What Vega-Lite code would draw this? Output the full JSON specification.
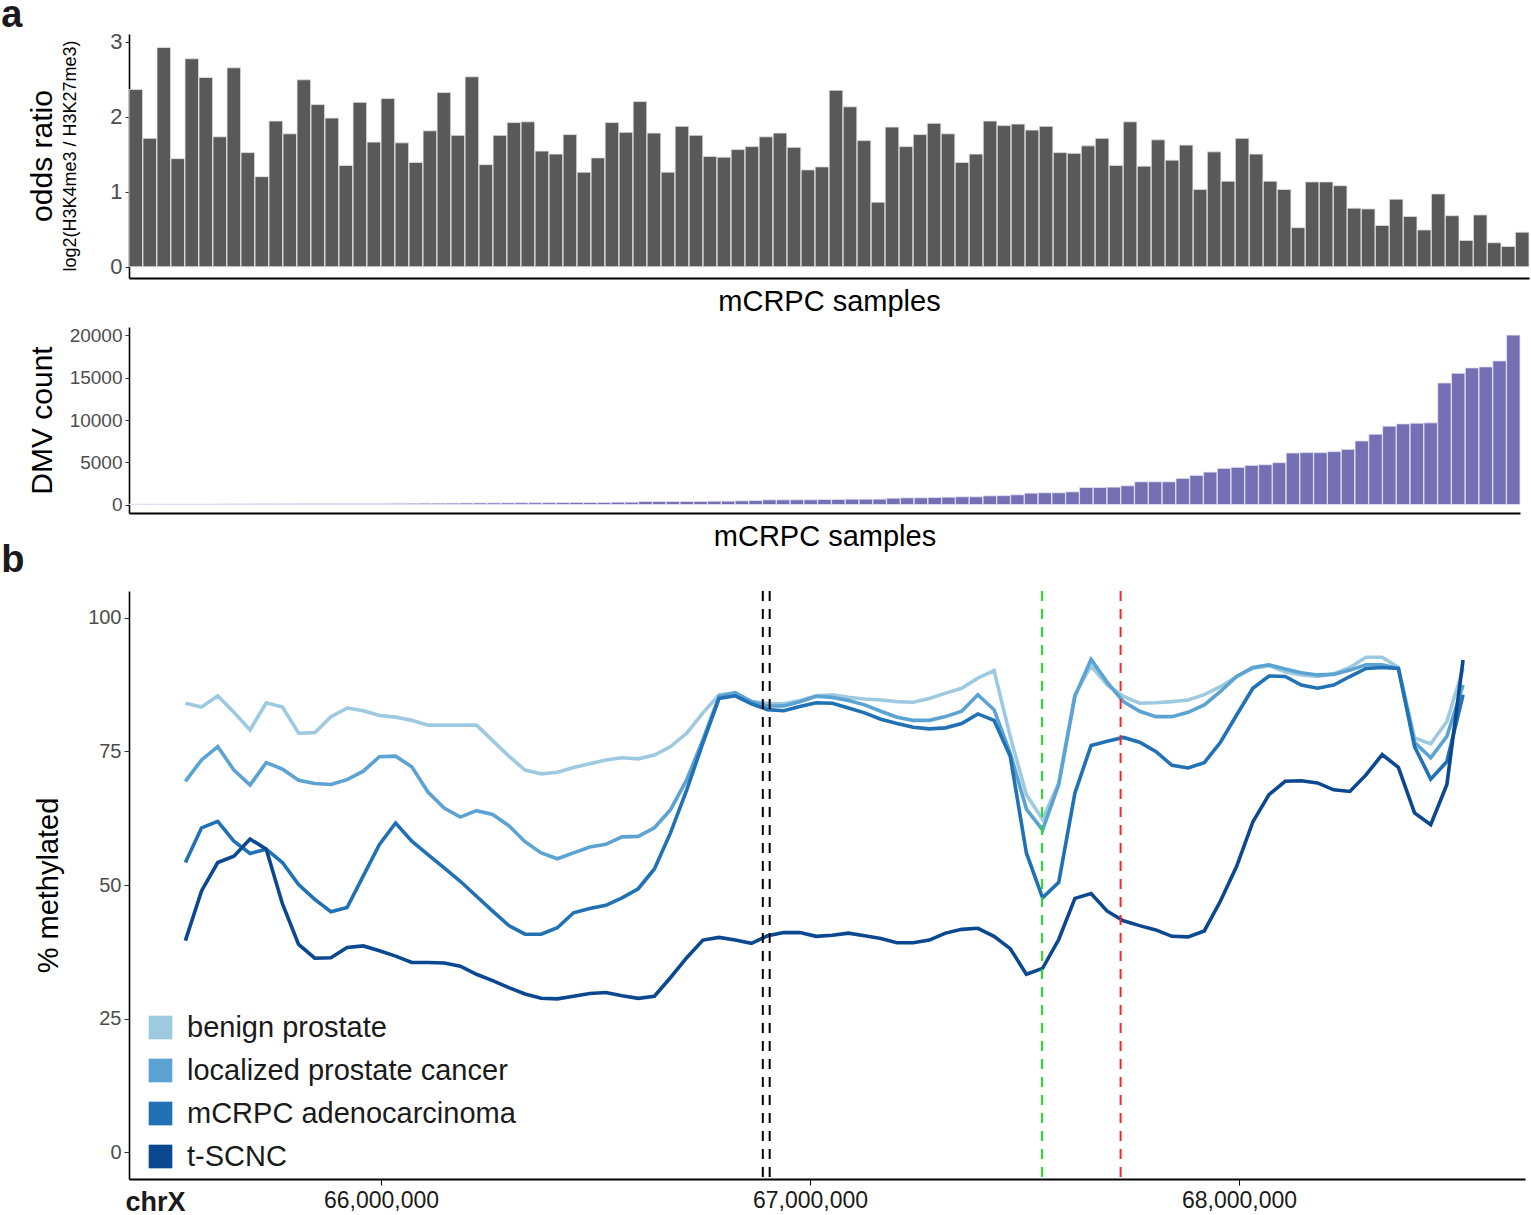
{
  "$schema": "https://vega.github.io/schema/vega-lite/v6.json",
  "background": "white",
  "padding": {"left": 1, "top": -4, "right": 0, "bottom": 0},
  "title": {"text": "a", "anchor": "start", "frame": "bounds", "fontSize": 38, "fontWeight": "bold", "color": "#1a1a1a", "offset": -4},
  "config": {
    "font": "Liberation Sans",
    "view": {"stroke": null},
    "axis": {"grid": false, "domainColor": "black", "domainWidth": 1.6, "tickColor": "#333333", "labelColor": "#4d4d4d", "titleColor": "black", "titleFontWeight": "normal"}
  },
  "resolve": {"legend": {"color": "independent"}},
  "spacing": 10,
  "vconcat": [
    {
      "width": 1400,
      "height": 244,
      "title": {"text": "odds ratio", "subtitle": "log2(H3K4me3 / H3K27me3)", "orient": "left", "anchor": "middle", "fontSize": 30, "fontWeight": "normal", "color": "black", "subtitleFontSize": 18, "subtitleColor": "black", "subtitlePadding": 4, "offset": 30},
      "data": {"values": [
        {"s":1,"or":2.36},{"s":2,"or":1.71},{"s":3,"or":2.92},{"s":4,"or":1.44},{"s":5,"or":2.77},{"s":6,"or":2.52},{"s":7,"or":1.73},{"s":8,"or":2.65},{"s":9,"or":1.52},{"s":10,"or":1.20},
        {"s":11,"or":1.94},{"s":12,"or":1.77},{"s":13,"or":2.49},{"s":14,"or":2.16},{"s":15,"or":1.98},{"s":16,"or":1.35},{"s":17,"or":2.19},{"s":18,"or":1.66},{"s":19,"or":2.24},{"s":20,"or":1.65},
        {"s":21,"or":1.39},{"s":22,"or":1.81},{"s":23,"or":2.32},{"s":24,"or":1.75},{"s":25,"or":2.53},{"s":26,"or":1.36},{"s":27,"or":1.75},{"s":28,"or":1.92},{"s":29,"or":1.93},{"s":30,"or":1.54},
        {"s":31,"or":1.50},{"s":32,"or":1.76},{"s":33,"or":1.26},{"s":34,"or":1.45},{"s":35,"or":1.92},{"s":36,"or":1.79},{"s":37,"or":2.20},{"s":38,"or":1.78},{"s":39,"or":1.26},{"s":40,"or":1.87},
        {"s":41,"or":1.75},{"s":42,"or":1.47},{"s":43,"or":1.46},{"s":44,"or":1.56},{"s":45,"or":1.60},{"s":46,"or":1.73},{"s":47,"or":1.78},{"s":48,"or":1.59},{"s":49,"or":1.29},{"s":50,"or":1.33},
        {"s":51,"or":2.35},{"s":52,"or":2.13},{"s":53,"or":1.68},{"s":54,"or":0.86},{"s":55,"or":1.86},{"s":56,"or":1.60},{"s":57,"or":1.76},{"s":58,"or":1.91},{"s":59,"or":1.77},{"s":60,"or":1.39},
        {"s":61,"or":1.50},{"s":62,"or":1.94},{"s":63,"or":1.88},{"s":64,"or":1.90},{"s":65,"or":1.82},{"s":66,"or":1.87},{"s":67,"or":1.52},{"s":68,"or":1.51},{"s":69,"or":1.61},{"s":70,"or":1.71},
        {"s":71,"or":1.35},{"s":72,"or":1.93},{"s":73,"or":1.34},{"s":74,"or":1.69},{"s":75,"or":1.42},{"s":76,"or":1.62},{"s":77,"or":1.03},{"s":78,"or":1.53},{"s":79,"or":1.14},{"s":80,"or":1.71},
        {"s":81,"or":1.50},{"s":82,"or":1.14},{"s":83,"or":1.03},{"s":84,"or":0.52},{"s":85,"or":1.13},{"s":86,"or":1.13},{"s":87,"or":1.08},{"s":88,"or":0.78},{"s":89,"or":0.77},{"s":90,"or":0.55},
        {"s":91,"or":0.90},{"s":92,"or":0.67},{"s":93,"or":0.49},{"s":94,"or":0.97},{"s":95,"or":0.68},{"s":96,"or":0.35},{"s":97,"or":0.69},{"s":98,"or":0.32},{"s":99,"or":0.27},{"s":100,"or":0.46}
      ]},
      "mark": {"type": "bar", "color": "#595959", "stroke": "#e3e3e3", "strokeWidth": 0.8},
      "encoding": {
        "x": {"field": "s", "type": "ordinal", "sort": null, "scale": {"paddingInner": 0.03, "paddingOuter": 0},
              "axis": {"title": "mCRPC samples", "titleFontSize": 29, "titlePadding": 9, "labels": false, "ticks": false, "domainWidth": 2}},
        "y": {"field": "or", "type": "quantitative", "scale": {"domain": [-0.15, 3.1], "nice": false},
              "axis": {"title": null, "values": [0, 1, 2, 3], "labelFontSize": 22, "tickSize": 4, "labelPadding": 3}}
      }
    },
    {
      "width": 1391,
      "height": 186,
      "title": {"text": "b", "orient": "bottom", "anchor": "start", "frame": "bounds", "fontSize": 38, "fontWeight": "bold", "color": "#1a1a1a", "offset": -9, "dx": -26},
      "data": {"values": [
        {"s":1,"dmv":40},{"s":2,"dmv":45},{"s":3,"dmv":50},{"s":4,"dmv":55},{"s":5,"dmv":60},{"s":6,"dmv":65},{"s":7,"dmv":70},{"s":8,"dmv":75},{"s":9,"dmv":80},{"s":10,"dmv":85},
        {"s":11,"dmv":90},{"s":12,"dmv":95},{"s":13,"dmv":100},{"s":14,"dmv":105},{"s":15,"dmv":110},{"s":16,"dmv":115},{"s":17,"dmv":120},{"s":18,"dmv":125},{"s":19,"dmv":130},{"s":20,"dmv":140},
        {"s":21,"dmv":150},{"s":22,"dmv":160},{"s":23,"dmv":165},{"s":24,"dmv":170},{"s":25,"dmv":180},{"s":26,"dmv":190},{"s":27,"dmv":195},{"s":28,"dmv":200},{"s":29,"dmv":210},{"s":30,"dmv":215},
        {"s":31,"dmv":220},{"s":32,"dmv":230},{"s":33,"dmv":238},{"s":34,"dmv":238},{"s":35,"dmv":245},{"s":36,"dmv":277},{"s":37,"dmv":280},{"s":38,"dmv":356},{"s":39,"dmv":356},{"s":40,"dmv":360},
        {"s":41,"dmv":360},{"s":42,"dmv":365},{"s":43,"dmv":396},{"s":44,"dmv":400},{"s":45,"dmv":436},{"s":46,"dmv":475},{"s":47,"dmv":554},{"s":48,"dmv":554},{"s":49,"dmv":560},{"s":50,"dmv":565},
        {"s":51,"dmv":594},{"s":52,"dmv":600},{"s":53,"dmv":634},{"s":54,"dmv":634},{"s":55,"dmv":640},{"s":56,"dmv":752},{"s":57,"dmv":792},{"s":58,"dmv":795},{"s":59,"dmv":832},{"s":60,"dmv":871},
        {"s":61,"dmv":911},{"s":62,"dmv":915},{"s":63,"dmv":1030},{"s":64,"dmv":1050},{"s":65,"dmv":1150},{"s":66,"dmv":1350},{"s":67,"dmv":1390},{"s":68,"dmv":1390},{"s":69,"dmv":1500},{"s":70,"dmv":2020},
        {"s":71,"dmv":2020},{"s":72,"dmv":2060},{"s":73,"dmv":2220},{"s":74,"dmv":2690},{"s":75,"dmv":2690},{"s":76,"dmv":2690},{"s":77,"dmv":3090},{"s":78,"dmv":3450},{"s":79,"dmv":3840},{"s":80,"dmv":4280},
        {"s":81,"dmv":4400},{"s":82,"dmv":4630},{"s":83,"dmv":4710},{"s":84,"dmv":4950},{"s":85,"dmv":6100},{"s":86,"dmv":6140},{"s":87,"dmv":6140},{"s":88,"dmv":6260},{"s":89,"dmv":6530},{"s":90,"dmv":7520},
        {"s":91,"dmv":8320},{"s":92,"dmv":9270},{"s":93,"dmv":9540},{"s":94,"dmv":9620},{"s":95,"dmv":9660},{"s":96,"dmv":14380},{"s":97,"dmv":15520},{"s":98,"dmv":16160},{"s":99,"dmv":16280},{"s":100,"dmv":16990},
        {"s":101,"dmv":20040}
      ]},
      "mark": {"type": "bar", "color": "#7570b3", "stroke": "#e4e2f1", "strokeWidth": 0.8},
      "encoding": {
        "x": {"field": "s", "type": "ordinal", "sort": null, "scale": {"paddingInner": 0.03, "paddingOuter": 0},
              "axis": {"title": "mCRPC samples", "titleFontSize": 29, "titlePadding": 9, "labels": false, "ticks": false, "domainWidth": 2}},
        "y": {"field": "dmv", "type": "quantitative", "scale": {"domain": [-1000, 21000], "nice": false},
              "axis": {"title": "DMV count", "titleFontSize": 30, "titlePadding": 12, "values": [0, 5000, 10000, 15000, 20000], "format": "d", "labelFontSize": 19, "tickSize": 4, "labelPadding": 3}}
      }
    },
    {
      "width": 1396,
      "height": 588,
      "encoding": {
        "x": {"field": "pos", "type": "quantitative", "scale": {"domain": [65412587, 68666667], "nice": false, "zero": false},
              "axis": {"title": "chrX", "titleFontSize": 27, "titleFontWeight": "bold", "titleColor": "#1a1a1a", "titleAnchor": "start", "titleAlign": "left", "titleBaseline": "alphabetic", "titleX": -4, "titleY": 31,
                       "values": [66000000, 67000000, 68000000], "labelExpr": "format(datum.value, ',')", "labelFontSize": 23, "labelColor": "#1a1a1a", "tickSize": 6, "tickColor": "black", "labelPadding": 4, "domainWidth": 2.2}}
      },
      "layer": [
        {
          "data": {"values": [
            {"pos":65544000,"benign":84.0,"localized":69.4,"mcrpc":54.2,"tscnc":39.6},
            {"pos":65581700,"benign":83.3,"localized":73.4,"mcrpc":60.7,"tscnc":48.9},
            {"pos":65619400,"benign":85.4,"localized":75.9,"mcrpc":61.9,"tscnc":54.2},
            {"pos":65657100,"benign":82.3,"localized":71.5,"mcrpc":58.2,"tscnc":55.4},
            {"pos":65694800,"benign":79.0,"localized":68.7,"mcrpc":55.9,"tscnc":58.6},
            {"pos":65732500,"benign":84.1,"localized":72.9,"mcrpc":56.7,"tscnc":56.7},
            {"pos":65770200,"benign":83.3,"localized":71.7,"mcrpc":54.2,"tscnc":46.5},
            {"pos":65807900,"benign":78.4,"localized":69.6,"mcrpc":50.1,"tscnc":38.9},
            {"pos":65845600,"benign":78.5,"localized":69.0,"mcrpc":47.3,"tscnc":36.3},
            {"pos":65883300,"benign":81.5,"localized":68.8,"mcrpc":45.0,"tscnc":36.4},
            {"pos":65921000,"benign":83.1,"localized":69.7,"mcrpc":45.8,"tscnc":38.3},
            {"pos":65958700,"benign":82.6,"localized":71.3,"mcrpc":51.7,"tscnc":38.6},
            {"pos":65996400,"benign":81.7,"localized":74.0,"mcrpc":57.6,"tscnc":37.7},
            {"pos":66034100,"benign":81.4,"localized":74.1,"mcrpc":61.6,"tscnc":36.7},
            {"pos":66071800,"benign":80.8,"localized":72.1,"mcrpc":58.2,"tscnc":35.5},
            {"pos":66109500,"benign":79.9,"localized":67.4,"mcrpc":55.7,"tscnc":35.5},
            {"pos":66147200,"benign":79.9,"localized":64.4,"mcrpc":53.2,"tscnc":35.4},
            {"pos":66184900,"benign":79.9,"localized":62.7,"mcrpc":50.7,"tscnc":34.8},
            {"pos":66222600,"benign":79.9,"localized":63.9,"mcrpc":47.9,"tscnc":33.3},
            {"pos":66260300,"benign":77.0,"localized":63.2,"mcrpc":45.1,"tscnc":32.1},
            {"pos":66298000,"benign":74.1,"localized":61.1,"mcrpc":42.4,"tscnc":30.8},
            {"pos":66335700,"benign":71.5,"localized":58.1,"mcrpc":40.8,"tscnc":29.6},
            {"pos":66373400,"benign":70.8,"localized":56.0,"mcrpc":40.8,"tscnc":28.8},
            {"pos":66411100,"benign":71.1,"localized":54.9,"mcrpc":42.0,"tscnc":28.7},
            {"pos":66448800,"benign":72.0,"localized":56.0,"mcrpc":44.8,"tscnc":29.2},
            {"pos":66486500,"benign":72.7,"localized":57.1,"mcrpc":45.6,"tscnc":29.7},
            {"pos":66524200,"benign":73.4,"localized":57.6,"mcrpc":46.2,"tscnc":29.9},
            {"pos":66561900,"benign":73.8,"localized":59.0,"mcrpc":47.6,"tscnc":29.3},
            {"pos":66599600,"benign":73.6,"localized":59.1,"mcrpc":49.3,"tscnc":28.8},
            {"pos":66637300,"benign":74.3,"localized":60.7,"mcrpc":53.0,"tscnc":29.2},
            {"pos":66675000,"benign":75.9,"localized":64.1,"mcrpc":59.8,"tscnc":32.7},
            {"pos":66712700,"benign":78.4,"localized":69.7,"mcrpc":67.8,"tscnc":36.4},
            {"pos":66750400,"benign":82.2,"localized":77.2,"mcrpc":76.6,"tscnc":39.7},
            {"pos":66788100,"benign":85.6,"localized":85.3,"mcrpc":84.9,"tscnc":40.2},
            {"pos":66825800,"benign":85.9,"localized":86.0,"mcrpc":85.4,"tscnc":39.7},
            {"pos":66863500,"benign":84.3,"localized":84.3,"mcrpc":83.9,"tscnc":39.1},
            {"pos":66901200,"benign":84.0,"localized":83.5,"mcrpc":82.8,"tscnc":40.5},
            {"pos":66938900,"benign":83.9,"localized":83.5,"mcrpc":82.6,"tscnc":41.1},
            {"pos":66976600,"benign":84.5,"localized":84.3,"mcrpc":83.4,"tscnc":41.1},
            {"pos":67014300,"benign":85.4,"localized":85.3,"mcrpc":84.1,"tscnc":40.4},
            {"pos":67052000,"benign":85.6,"localized":85.1,"mcrpc":84.0,"tscnc":40.6},
            {"pos":67089700,"benign":85.1,"localized":84.5,"mcrpc":83.1,"tscnc":41.0},
            {"pos":67127400,"benign":84.8,"localized":83.7,"mcrpc":82.2,"tscnc":40.5},
            {"pos":67165100,"benign":84.6,"localized":82.5,"mcrpc":81.0,"tscnc":40.0},
            {"pos":67202800,"benign":84.3,"localized":81.4,"mcrpc":80.2,"tscnc":39.2},
            {"pos":67240500,"benign":84.2,"localized":80.8,"mcrpc":79.5,"tscnc":39.2},
            {"pos":67278200,"benign":84.9,"localized":80.8,"mcrpc":79.2,"tscnc":39.7},
            {"pos":67315900,"benign":85.9,"localized":81.5,"mcrpc":79.4,"tscnc":41.0},
            {"pos":67353600,"benign":86.8,"localized":82.5,"mcrpc":80.2,"tscnc":41.7},
            {"pos":67391300,"benign":88.7,"localized":85.6,"mcrpc":82.0,"tscnc":41.9},
            {"pos":67429000,"benign":90.1,"localized":82.8,"mcrpc":80.8,"tscnc":40.4},
            {"pos":67466700,"benign":77.8,"localized":74.7,"mcrpc":74.1,"tscnc":38.1},
            {"pos":67504400,"benign":66.9,"localized":64.2,"mcrpc":56.0,"tscnc":33.3},
            {"pos":67542100,"benign":62.3,"localized":60.3,"mcrpc":47.6,"tscnc":34.4},
            {"pos":67579800,"benign":69.1,"localized":68.8,"mcrpc":50.5,"tscnc":39.8},
            {"pos":67617500,"benign":85.6,"localized":85.3,"mcrpc":67.2,"tscnc":47.5},
            {"pos":67655200,"benign":91.0,"localized":92.2,"mcrpc":76.1,"tscnc":48.4},
            {"pos":67692900,"benign":87.4,"localized":87.9,"mcrpc":76.9,"tscnc":45.1},
            {"pos":67730600,"benign":85.3,"localized":84.3,"mcrpc":77.6,"tscnc":43.3},
            {"pos":67768300,"benign":84.0,"localized":82.5,"mcrpc":76.7,"tscnc":42.4},
            {"pos":67806000,"benign":84.1,"localized":81.5,"mcrpc":75.0,"tscnc":41.6},
            {"pos":67843700,"benign":84.3,"localized":81.5,"mcrpc":72.4,"tscnc":40.4},
            {"pos":67881400,"benign":84.6,"localized":82.3,"mcrpc":71.9,"tscnc":40.3},
            {"pos":67919100,"benign":85.6,"localized":83.7,"mcrpc":72.9,"tscnc":41.4},
            {"pos":67956800,"benign":87.1,"localized":86.2,"mcrpc":76.7,"tscnc":47.0},
            {"pos":67994500,"benign":89.0,"localized":89.0,"mcrpc":81.8,"tscnc":53.5},
            {"pos":68032200,"benign":90.5,"localized":90.7,"mcrpc":86.8,"tscnc":61.8},
            {"pos":68069900,"benign":91.0,"localized":91.2,"mcrpc":89.1,"tscnc":66.9},
            {"pos":68107600,"benign":89.9,"localized":90.4,"mcrpc":89.0,"tscnc":69.4},
            {"pos":68145300,"benign":89.3,"localized":89.7,"mcrpc":87.4,"tscnc":69.5},
            {"pos":68183000,"benign":89.0,"localized":89.3,"mcrpc":86.8,"tscnc":69.1},
            {"pos":68220700,"benign":89.5,"localized":89.4,"mcrpc":87.4,"tscnc":67.8},
            {"pos":68258400,"benign":90.7,"localized":90.2,"mcrpc":89.0,"tscnc":67.5},
            {"pos":68296100,"benign":92.6,"localized":91.2,"mcrpc":90.5,"tscnc":70.6},
            {"pos":68333800,"benign":92.6,"localized":91.2,"mcrpc":90.7,"tscnc":74.4},
            {"pos":68371500,"benign":90.7,"localized":90.5,"mcrpc":90.5,"tscnc":72.0},
            {"pos":68409200,"benign":77.5,"localized":76.7,"mcrpc":75.9,"tscnc":63.5},
            {"pos":68446900,"benign":76.4,"localized":73.8,"mcrpc":69.8,"tscnc":61.3},
            {"pos":68484600,"benign":80.6,"localized":77.8,"mcrpc":73.1,"tscnc":68.8},
            {"pos":68522300,"benign":90.5,"localized":87.4,"mcrpc":85.6,"tscnc":92.1}
          ]},
          "transform": [{"fold": ["benign", "localized", "mcrpc", "tscnc"], "as": ["group", "pct"]}],
          "mark": {"type": "line", "strokeWidth": 3.6, "strokeJoin": "miter"},
          "encoding": {
            "y": {"field": "pct", "type": "quantitative", "scale": {"domain": [-5, 105], "nice": false},
                  "axis": {"title": "% methylated", "titleFontSize": 29, "titlePadding": 24, "values": [0, 25, 50, 75, 100], "labelFontSize": 20, "tickSize": 5, "labelPadding": 3}},
            "color": {"field": "group", "type": "nominal",
                      "scale": {"domain": ["benign", "localized", "mcrpc", "tscnc"], "range": ["#9ecae1", "#5ba3d2", "#2171b5", "#0b4890"]},
                      "legend": {"title": null, "orient": "none", "legendX": 17, "legendY": 422, "symbolType": "square", "symbolSize": 560, "symbolStrokeWidth": 0,
                                 "labelFontSize": 29, "labelColor": "#1a1a1a", "labelOffset": 12, "rowPadding": 13, "labelLimit": 0,
                                 "labelExpr": "{'benign': 'benign prostate', 'localized': 'localized prostate cancer', 'mcrpc': 'mCRPC adenocarcinoma', 'tscnc': 't-SCNC'}[datum.label]",
                                 "encode": {"symbols": {"update": {"fill": {"scale": "color", "field": "value"}, "opacity": {"value": 1}}}}}}
          }
        },
        {
          "data": {"values": [{"pos": 66890000}, {"pos": 66906000}]},
          "mark": {"type": "rule", "color": "black", "strokeWidth": 2, "strokeDash": [10, 8]},
          "encoding": {}
        },
        {
          "data": {"values": [{"pos": 67541000}]},
          "mark": {"type": "rule", "color": "#1ee01e", "strokeWidth": 2, "strokeDash": [10, 8]},
          "encoding": {}
        },
        {
          "data": {"values": [{"pos": 67724000}]},
          "mark": {"type": "rule", "color": "#f02828", "strokeWidth": 2, "strokeDash": [10, 8]},
          "encoding": {}
        }
      ]
    }
  ]
}
